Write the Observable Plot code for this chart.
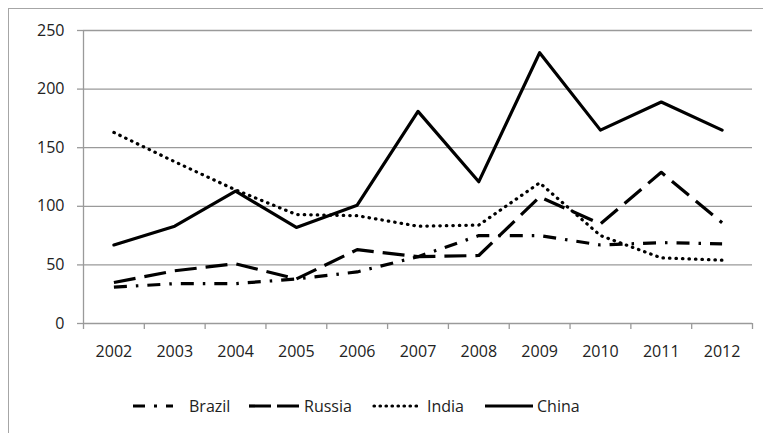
<!DOCTYPE html>
<html>
<head>
<meta charset="utf-8">
<script src="https://cdn.jsdelivr.net/npm/d3@7"></script>
<script src="https://cdn.jsdelivr.net/npm/@observablehq/plot@0.6"></script>
<style>
  html, body { margin: 0; padding: 0; background: #fff; }
  #frame { position: relative; width: 763px; height: 433px; overflow: hidden; font-family: "Open Sans", sans-serif; }
  #border { position: absolute; left: 8px; top: 8px; width: 800px; height: 500px; border-left: 1.5px solid #a6a6a6; border-top: 1.5px solid #a6a6a6; box-sizing: border-box; }
  #chart { position: absolute; left: 0; top: 0; }
  #legend { position: absolute; left: 0; top: 375px; width: 763px; height: 58px; font-size: 16px; color: #222; }
  .item { position: absolute; top: 21px; display: flex; align-items: center; height: 20px; }
  .item svg { display: block; }
</style>
</head>
<body>
<div id="frame">
  <div id="border"></div>
  <div id="chart"></div>
  <div id="legend"></div>
</div>
<script>
const years = [2002, 2003, 2004, 2005, 2006, 2007, 2008, 2009, 2010, 2011, 2012];
const seriesNames = ["Brazil", "Russia", "India", "China"];
const brazil = [31, 34, 34, 38, 44, 57, 75, 75, 67, 69, 68];
const russia = [35, 45, 51, 38, 63, 57, 58, 108, 85, 129, 86];
const india  = [163, 138, 114, 93, 92, 83, 84, 120, 75, 56, 54];
const china  = [67, 83, 113, 82, 101, 181, 121, 231, 165, 189, 165];
const yTicks = [0, 50, 100, 150, 200, 250];

const values = { Brazil: brazil, Russia: russia, India: india, China: china };
const dashes = { Brazil: "13,9,2.5,9", Russia: "22,9", India: "0.5,6", China: null };
const caps = { Brazil: "butt", Russia: "butt", India: "round", China: "round" };

const data = seriesNames.flatMap(s => years.map((y, i) => ({ series: s, year: y, value: values[s][i] })));
const bounds = [...years.map(y => y - 0.5), years[years.length - 1] + 0.5];

const lineMarks = seriesNames.map(s => Plot.lineY(data.filter(d => d.series === s), {
  x: "year", y: "value", stroke: "#000", strokeWidth: 3.2,
  strokeDasharray: dashes[s], strokeLinecap: caps[s], strokeLinejoin: "round"
}));

const chart = Plot.plot({
  width: 763, height: 375,
  marginLeft: 83, marginRight: 11, marginTop: 30, marginBottom: 52,
  style: { fontFamily: "Open Sans, sans-serif", fontSize: "16px", color: "#222", background: "transparent" },
  x: { domain: [bounds[0], bounds[bounds.length - 1]], axis: null, label: null },
  y: { domain: [0, 250], axis: null, label: null },
  marks: [
    Plot.gridY(yTicks, { stroke: "#9a9a9a", strokeOpacity: 1, strokeWidth: 1.3, x1: bounds[0], x2: bounds[bounds.length - 1] }),
    Plot.axisY(yTicks, { label: null, tickSize: 6, tickPadding: 13, stroke: "#9a9a9a", strokeWidth: 1.3, fill: "#222", fontSize: 16 }),
    Plot.axisX(bounds, { label: null, tickSize: 6, tickFormat: () => "", stroke: "#9a9a9a", strokeWidth: 1.3 }),
    Plot.axisX(years, { label: null, tickSize: 0, tickPadding: 22, tickFormat: d => String(d), fill: "#222", fontSize: 16 }),
    Plot.ruleX([bounds[0]], { y1: 0, y2: 250, stroke: "#9a9a9a", strokeWidth: 1.3 }),
    ...lineMarks
  ]
});
document.getElementById("chart").appendChild(chart);

// legend
const legendPos = { Brazil: [133, 40, 16], Russia: [249, 50, 5], India: [372, 46, 9], China: [485, 48, 4] };
const legend = document.getElementById("legend");
seriesNames.forEach(s => {
  const [left, w, gap] = legendPos[s];
  const item = document.createElement("div");
  item.className = "item";
  item.style.left = left + "px";
  const svg = d3.create("svg").attr("width", w).attr("height", 20);
  svg.append("line").attr("x1", s === "India" ? 2 : 0).attr("x2", w).attr("y1", 10).attr("y2", 10)
    .attr("stroke", "#000").attr("stroke-width", 3.2)
    .attr("stroke-dasharray", s === "Brazil" ? "12,9,3,9" : s === "Russia" ? "22,6" : s === "India" ? "0.5,5.5" : null)
    .attr("stroke-linecap", s === "India" ? "round" : "butt");
  item.appendChild(svg.node());
  const label = document.createElement("span");
  label.textContent = s;
  label.style.marginLeft = gap + "px";
  item.appendChild(label);
  legend.appendChild(item);
});
</script>
</body>
</html>
